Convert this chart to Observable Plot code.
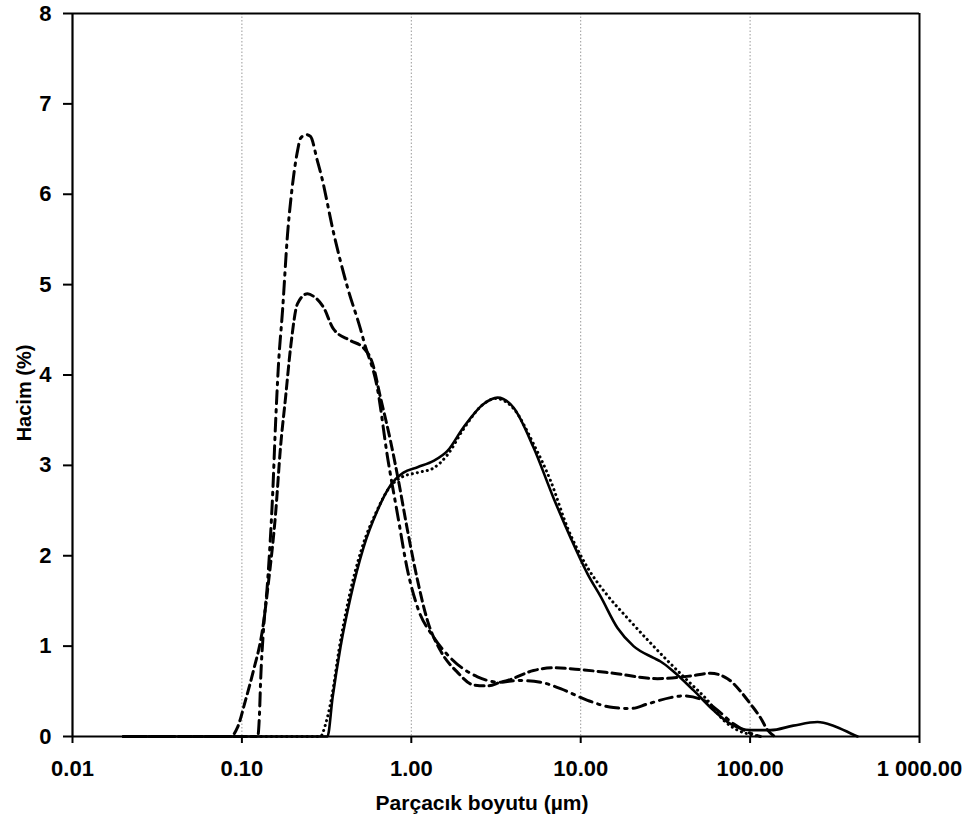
<!DOCTYPE html>
<html>
<head>
<meta charset="utf-8">
<script src="https://cdn.jsdelivr.net/npm/d3@7"></script>
<script src="https://cdn.jsdelivr.net/npm/@observablehq/plot@0.6"></script>
<style>
  html, body { margin: 0; padding: 0; background: #fff; }
  #chart svg { display: block; }
</style>
</head>
<body>
<div id="chart"></div>
<script>
// Tick values and labels
const xTicks = [0.01, 0.1, 1, 10, 100, 1000];
const xTickLabels = ["0.01", "0.10", "1.00", "10.00", "100.00", "1 000.00"];
const xGrid = [0.1, 1, 10, 100];
const yTicks = [0, 1, 2, 3, 4, 5, 6, 7, 8];
const yTickLabels = ["0", "1", "2", "3", "4", "5", "6", "7", "8"];

const xTitle = "Parçacık boyutu (µm)";
const yTitle = "Hacim (%)";

// Series 1: solid
const solidX = [0.02, 0.32, 0.343, 0.382, 0.438, 0.522, 0.631, 0.754, 0.899, 1.088, 1.353, 1.635, 2.03, 2.67, 3.23, 4.01, 5.26, 6.91, 8.71, 10.97, 13.1, 16.5, 20.5, 26.9, 29.6, 35.3, 46.4, 60.8, 76.6, 100.5, 132, 180, 250, 310, 408, 431];
const solidY = [0, 0, 0.43, 0.99, 1.54, 2.09, 2.50, 2.78, 2.92, 2.98, 3.05, 3.16, 3.42, 3.68, 3.75, 3.64, 3.20, 2.64, 2.20, 1.80, 1.55, 1.20, 1.00, 0.87, 0.83, 0.72, 0.51, 0.29, 0.14, 0.07, 0.07, 0.12, 0.16, 0.12, 0.02, 0];

// Series 2: dotted
const dottedX = [0.02, 0.291, 0.31, 0.34, 0.375, 0.43, 0.51, 0.62, 0.74, 0.88, 1.09, 1.35, 1.64, 2.03, 2.67, 3.15, 4.01, 5.26, 6.64, 8.36, 10.97, 14.4, 18.9, 24.8, 32.5, 42.7, 56.1, 69.7, 84.3, 96.6, 115];
const dottedY = [0, 0, 0.12, 0.45, 0.97, 1.55, 2.08, 2.48, 2.75, 2.87, 2.92, 2.97, 3.12, 3.40, 3.68, 3.74, 3.63, 3.24, 2.83, 2.31, 1.87, 1.56, 1.31, 1.07, 0.84, 0.62, 0.40, 0.18, 0.07, 0.03, 0];

// Series 3: dashed
const dashedX = [0.02, 0.0857, 0.0942, 0.105, 0.117, 0.132, 0.144, 0.158, 0.169, 0.181, 0.194, 0.213, 0.244, 0.265, 0.303, 0.347, 0.438, 0.522, 0.590, 0.658, 0.754, 0.840, 0.950, 1.088, 1.247, 1.487, 1.874, 2.33, 2.82, 3.36, 3.70, 5.26, 6.91, 9.98, 15.6, 28.4, 44.5, 58.4, 73.6, 87.8, 100.5, 115, 127, 140];
const dashedY = [0, 0, 0.10, 0.40, 0.73, 1.17, 1.73, 2.46, 3.20, 3.75, 4.31, 4.79, 4.90, 4.87, 4.75, 4.51, 4.38, 4.30, 4.13, 3.75, 3.27, 2.83, 2.28, 1.73, 1.28, 0.95, 0.71, 0.57, 0.56, 0.60, 0.62, 0.73, 0.76, 0.74, 0.70, 0.64, 0.67, 0.70, 0.64, 0.50, 0.36, 0.21, 0.07, 0];

// Series 4: dash-dot
const dashDotX = [0.02, 0.124, 0.127, 0.129, 0.134, 0.142, 0.152, 0.158, 0.164, 0.174, 0.186, 0.196, 0.213, 0.222, 0.24, 0.254, 0.279, 0.295, 0.347, 0.420, 0.501, 0.529, 0.631, 0.724, 0.829, 0.950, 1.088, 1.353, 1.703, 2.46, 3.36, 4.24, 5.79, 7.60, 10.97, 15.6, 19.7, 24.8, 33.9, 40.4, 53.1, 64.2, 79.8, 96.6, 115];
const dashDotY = [0, 0, 0.25, 0.62, 1.17, 1.73, 2.69, 3.46, 4.08, 4.73, 5.56, 6.00, 6.48, 6.62, 6.66, 6.64, 6.37, 6.20, 5.58, 4.97, 4.51, 4.35, 3.85, 3.09, 2.46, 1.84, 1.43, 1.10, 0.87, 0.66, 0.60, 0.62, 0.60, 0.53, 0.40, 0.32, 0.31, 0.36, 0.43, 0.45, 0.40, 0.29, 0.14, 0.05, 0];

const toRows = (xs, ys) => xs.map((x, i) => ({x, y: ys[i]}));
const solid = toRows(solidX, solidY);
const dotted = toRows(dottedX, dottedY);
const dashed = toRows(dashedX, dashedY);
const dashDot = toRows(dashDotX, dashDotY);

const font = "'Liberation Sans', Arial, Helvetica, sans-serif";

const chart = Plot.plot({
  width: 970,
  height: 825,
  marginLeft: 72,
  marginRight: 51,
  marginTop: 13,
  marginBottom: 89,
  style: {fontFamily: font, background: "#fff", color: "#000"},
  x: {type: "log", domain: [0.01, 1000]},
  y: {domain: [0, 8]},
  marks: [
    Plot.gridX(xGrid, {stroke: "#999", strokeOpacity: 1, strokeWidth: 1, strokeDasharray: "1.5,2"}),
    Plot.line(dashed, {x: "x", y: "y", curve: "monotone-x", stroke: "#000", strokeWidth: 3, strokeDasharray: "9,5"}),
    Plot.line(dashDot, {x: "x", y: "y", curve: "monotone-x", stroke: "#000", strokeWidth: 3, strokeDasharray: "13,6,2.5,6"}),
    Plot.line(dotted, {x: "x", y: "y", curve: "monotone-x", stroke: "#000", strokeWidth: 3, strokeDasharray: "0.1,5", strokeLinecap: "round"}),
    Plot.line(solid, {x: "x", y: "y", curve: "monotone-x", stroke: "#000", strokeWidth: 2.6}),
    Plot.ruleY([8], {stroke: "#000", strokeWidth: 2}),
    Plot.ruleX([1000], {stroke: "#000", strokeWidth: 2}),
    Plot.ruleY([0], {stroke: "#000", strokeWidth: 2.2}),
    Plot.ruleX([0.01], {stroke: "#000", strokeWidth: 2.2}),
    Plot.axisX(xTicks, {
      tickSize: 7, tickPadding: 17, strokeWidth: 2,
      tickFormat: d => xTickLabels[xTicks.indexOf(d)],
      fontSize: 22, fontWeight: "bold", fill: "#000", label: null
    }),
    Plot.axisY(yTicks, {
      tickSize: 9, tickPadding: 12, strokeWidth: 2,
      tickFormat: d => yTickLabels[yTicks.indexOf(d)],
      fontSize: 22, fontWeight: "bold", fill: "#000", label: null
    }),
    Plot.text([xTitle], {frameAnchor: "bottom", dx: -14, dy: 67, text: d => d, fontSize: 21, fontWeight: "bold", fill: "#000", textAnchor: "middle", lineAnchor: "middle"}),
    Plot.text([yTitle], {frameAnchor: "left", dx: -48, dy: 18, rotate: -90, text: d => d, fontSize: 20, fontWeight: "bold", fill: "#000", textAnchor: "middle", lineAnchor: "middle"})
  ]
});
document.getElementById("chart").appendChild(chart);
</script>
</body>
</html>
